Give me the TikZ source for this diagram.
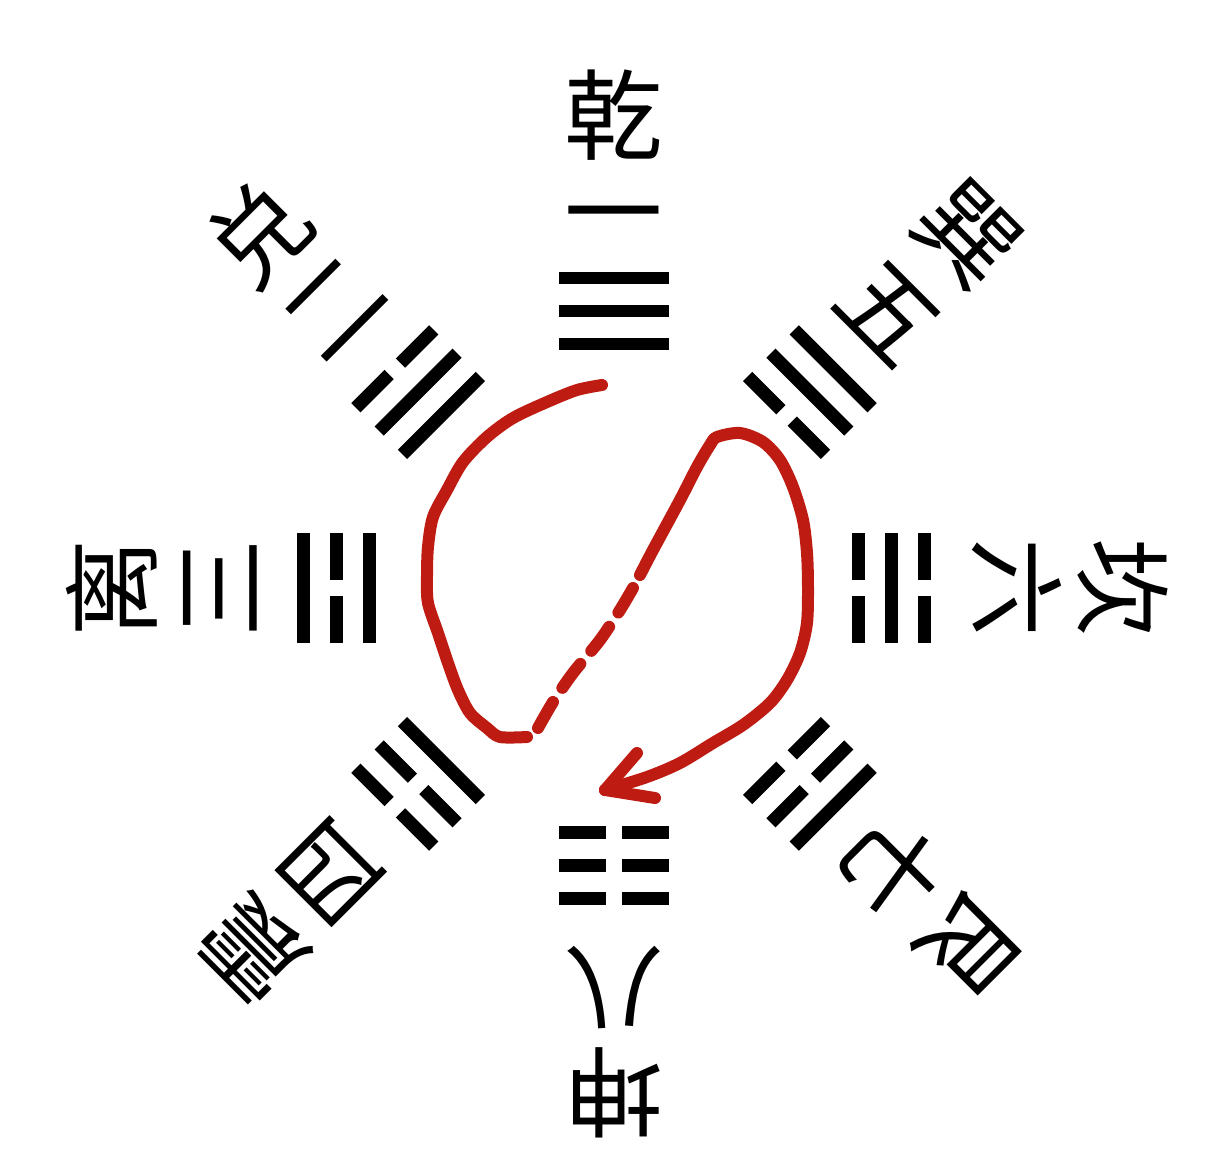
\documentclass[tikz,border=0pt]{standalone}
\usepackage{fontspec}
\newfontfamily\cjk{Noto Sans CJK SC}
\definecolor{inkred}{RGB}{190,28,18}
\tikzset{
  yao/.style={line width=0.26cm},
  guaname/.style={font=\cjk\fontsize{56}{56}\selectfont, inner sep=0pt},
  redline/.style={draw=inkred, line width=0.24cm, line cap=round, line join=round}
}
% one line of a trigram: #1 = distance from the centre, #2 = 1 solid / 0 broken
\newcommand{\yaoline}[2]{%
  \ifnum#2=1
    \draw[yao] (-55,#1) -- (55,#1);
  \else
    \draw[yao] (-55,#1) -- (-8,#1);
    \draw[yao] (8,#1) -- (55,#1);
  \fi}
\begin{document}
\begin{tikzpicture}[x=0.02cm,y=0.02cm]
  \useasboundingbox (-614,-579) rectangle (610,588);

  % the eight trigrams, first line nearest the centre
  \foreach \ang/\a/\b/\c in {90/1/1/1, 135/1/1/0, 180/1/0/1, 225/1/0/0,
                             45/0/1/1, 0/0/1/0, 315/0/0/1, 270/0/0/0}{
    \begin{scope}[rotate=\ang-90]
      \yaoline{244}{\a}
      \yaoline{277}{\b}
      \yaoline{310}{\c}
    \end{scope}
  }

  % names and numbers
  \foreach \ang/\name/\num/\ro/\ri in {90/乾/一/473/361, 135/兑/二/502/395,
      180/离/三/502/394, 225/震/四/510/400, 45/巽/五/500/388,
      0/坎/六/509/403, 315/艮/七/503/396, 270/坤/八/505/399}{
    \node[guaname, rotate=\ang-90] (name-\ang) at (\ang:\ro) {\name};
    \node[guaname, rotate=\ang-90] (num-\ang) at (\ang:\ri) {\num};
  }

  % the red stroke
  \coordinate (start) at (-12,203);
  \coordinate (tip) at (-9,-202);
  \draw[redline] plot[smooth] coordinates {(start) (-37,198) (-67,186) (-101,170)
    (-127,151) (-151,126) (-167,98) (-181,71) (-186,41) (-187,11) (-186,-15)
    (-176,-45) (-166,-75) (-156,-102) (-144,-125) (-127,-140) (-114,-149) (-87,-149)};
  \draw[redline, dash pattern=on 0.6cm off 0.34cm]
    plot[smooth] coordinates {(-76,-140) (-61,-114) (-41,-85) (-14,-52) (6,-22) (19,0)};
  \draw[redline] plot[smooth] coordinates {(26,13) (39,38) (66,88) (83,121) (96,143)
    (103,151) (126,155) (149,146) (166,128) (179,101) (189,68) (193,35) (194,1)
    (193,-35) (186,-65) (173,-92) (156,-115) (129,-137) (99,-155) (66,-175)
    (33,-189) (tip)};
  \draw[redline] (tip) -- (23,-165);
  \draw[redline] (tip) -- (41,-210);
\end{tikzpicture}
\end{document}
